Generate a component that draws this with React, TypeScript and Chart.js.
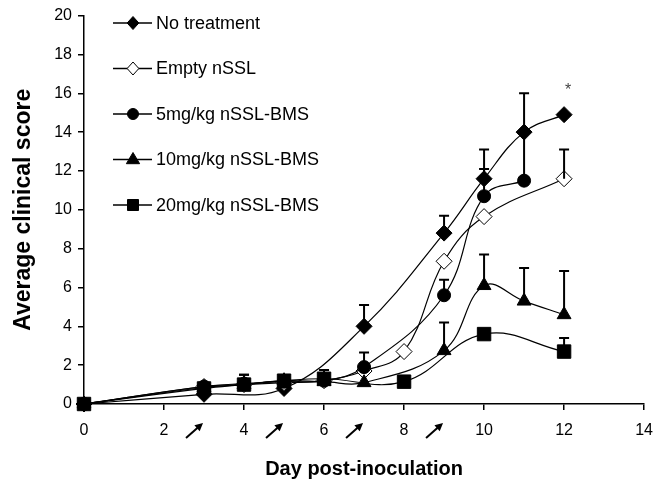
import React, { useEffect, useRef } from 'react';
import { Chart, registerables } from 'chart.js';

Chart.register(...registerables);

const FONT = '"Liberation Sans", Arial, sans-serif';

// Series data (day, mean score, upper error)
const noTreatDays = [0, 3, 5, 7, 9, 10, 11, 12];
const noTreatScores = [0, 0.5, 0.8, 4.0, 8.8, 11.6, 14.0, 14.9];
const noTreatErr = [null, null, null, 1.1, 0.9, 1.5, 2.0, null];

const emptyDays = [0, 3, 4, 5, 6, 7, 8, 9, 10, 12];
const emptyScores = [0, 0.9, 1.0, 1.1, 1.2, 1.7, 2.7, 7.35, 9.65, 11.6];
const emptyErr = [null, null, null, null, null, null, null, null, null, 1.5];

const mg5Days = [0, 3, 4, 5, 6, 7, 9, 10, 11];
const mg5Scores = [0, 0.9, 1.05, 1.15, 1.2, 1.9, 5.6, 10.7, 11.5];
const mg5Err = [null, null, 0.45, null, null, 0.75, 0.8, 1.4, 2.6];

const mg10Days = [0, 3, 4, 5, 6, 7, 9, 10, 11, 12];
const mg10Scores = [0, 0.85, 1.0, 1.2, 1.15, 1.1, 2.75, 6.1, 5.3, 4.6];
const mg10Err = [null, null, null, null, null, null, 1.45, 1.6, 1.7, 2.25];

const mg20Days = [0, 3, 4, 5, 6, 8, 10, 12];
const mg20Scores = [0, 0.8, 1.0, 1.2, 1.3, 1.15, 3.6, 2.7];
const mg20Err = [null, null, 0.5, 0.2, 0.45, null, null, 0.7];

const seriesLabels = ['No treatment', 'Empty nSSL', '5mg/kg nSSL-BMS', '10mg/kg nSSL-BMS', '20mg/kg nSSL-BMS'];
const arrowDays = [3, 5, 7, 9];
const xTicks = [0, 2, 4, 6, 8, 10, 12, 14];
const yTicks = [0, 2, 4, 6, 8, 10, 12, 14, 16, 18, 20];
const significanceDay = 12;
const significanceValue = 16.3;

function drawMarker(ctx: CanvasRenderingContext2D, style: string, x: number, y: number, r: number, filled: boolean) {
  ctx.save();
  ctx.beginPath();
  if (style === 'rectRot') {
    ctx.moveTo(x, y - r);
    ctx.lineTo(x + r * 0.9, y);
    ctx.lineTo(x, y + r);
    ctx.lineTo(x - r * 0.9, y);
    ctx.closePath();
  } else if (style === 'circle') {
    ctx.arc(x, y, r, 0, Math.PI * 2);
  } else if (style === 'triangle') {
    ctx.moveTo(x, y - r);
    ctx.lineTo(x + r * 0.95, y + r * 0.6);
    ctx.lineTo(x - r * 0.95, y + r * 0.6);
    ctx.closePath();
  } else {
    ctx.rect(x - r, y - r, 2 * r, 2 * r);
  }
  ctx.fillStyle = filled ? '#000' : '#fff';
  ctx.fill();
  ctx.strokeStyle = '#000';
  ctx.lineWidth = 1;
  ctx.stroke();
  ctx.restore();
}

const legendPlugin = {
  id: 'customLegend',
  afterDraw(chart: any) {
    const ctx = chart.ctx as CanvasRenderingContext2D;
    const styles = [
      ['rectRot', 6.5, true],
      ['rectRot', 6.5, false],
      ['circle', 5.5, true],
      ['triangle', 7, true],
      ['rect', 5.5, true],
    ] as const;
    seriesLabels.forEach((label, i) => {
      const y = 23 + i * 45.5;
      ctx.save();
      ctx.strokeStyle = '#000';
      ctx.lineWidth = 1.3;
      ctx.beginPath();
      ctx.moveTo(113, y);
      ctx.lineTo(152, y);
      ctx.stroke();
      ctx.restore();
      drawMarker(ctx, styles[i][0], 133, y, styles[i][1], styles[i][2]);
      ctx.save();
      ctx.fillStyle = '#000';
      ctx.font = `18px ${FONT}`;
      ctx.textAlign = 'left';
      ctx.textBaseline = 'middle';
      ctx.fillText(label, 156, y + 1);
      ctx.restore();
    });
  },
};

const errorBarPlugin = {
  id: 'errorBars',
  afterDatasetsDraw(chart: any) {
    const ctx = chart.ctx as CanvasRenderingContext2D;
    const yScale = chart.scales.y;
    chart.data.datasets.forEach((ds: any, i: number) => {
      const meta = chart.getDatasetMeta(i);
      (ds.errors || []).forEach((e: number | null, j: number) => {
        if (e == null) return;
        const pt = meta.data[j];
        const top = yScale.getPixelForValue(ds.data[j].y + e);
        ctx.save();
        ctx.strokeStyle = '#000';
        ctx.lineWidth = 2;
        ctx.beginPath();
        ctx.moveTo(pt.x, pt.y);
        ctx.lineTo(pt.x, top);
        ctx.moveTo(pt.x - 5, top);
        ctx.lineTo(pt.x + 5, top);
        ctx.stroke();
        ctx.restore();
      });
    });
  },
};

const annotationPlugin = {
  id: 'annotations',
  afterDraw(chart: any) {
    const ctx = chart.ctx as CanvasRenderingContext2D;
    const xScale = chart.scales.x;
    const yScale = chart.scales.y;
    const base = chart.chartArea.bottom;
    arrowDays.forEach((d) => {
      const tipX = xScale.getPixelForValue(d) - 1;
      const tipY = base + 19;
      const tailX = tipX - 17;
      const tailY = tipY + 15;
      const ang = Math.atan2(tipY - tailY, tipX - tailX);
      ctx.save();
      ctx.strokeStyle = '#000';
      ctx.fillStyle = '#000';
      ctx.lineWidth = 2;
      ctx.beginPath();
      ctx.moveTo(tailX, tailY);
      ctx.lineTo(tipX - 5 * Math.cos(ang), tipY - 5 * Math.sin(ang));
      ctx.stroke();
      ctx.beginPath();
      ctx.moveTo(tipX, tipY);
      ctx.lineTo(tipX - 8 * Math.cos(ang) + 4 * Math.sin(ang), tipY - 8 * Math.sin(ang) - 4 * Math.cos(ang));
      ctx.lineTo(tipX - 8 * Math.cos(ang) - 4 * Math.sin(ang), tipY - 8 * Math.sin(ang) + 4 * Math.cos(ang));
      ctx.closePath();
      ctx.fill();
      ctx.restore();
    });
    ctx.save();
    ctx.fillStyle = '#444';
    ctx.font = `16px ${FONT}`;
    ctx.textAlign = 'center';
    ctx.textBaseline = 'middle';
    ctx.fillText('*', xScale.getPixelForValue(significanceDay) + 4, yScale.getPixelForValue(significanceValue) + 3);
    ctx.restore();
  },
};

function toPoints(days: number[], scores: number[]) {
  return days.map((d, i) => ({ x: d, y: scores[i] }));
}

export default function App() {
  const canvasRef = useRef<HTMLCanvasElement | null>(null);

  useEffect(() => {
    document.body.style.margin = '0';
    const canvas = canvasRef.current;
    if (!canvas) return;
    const common = {
      borderColor: '#000',
      borderWidth: 1.2,
      tension: 0.4,
      pointBorderColor: '#000',
      pointBorderWidth: 1,
      clip: false as any,
      fill: false,
    };
    const chart = new Chart(canvas, {
      type: 'line',
      data: {
        datasets: [
          { ...common, order: 5, label: seriesLabels[0], data: toPoints(noTreatDays, noTreatScores), errors: noTreatErr, pointStyle: 'rectRot', pointRadius: 8, pointBackgroundColor: '#000' } as any,
          { ...common, order: 4, label: seriesLabels[1], data: toPoints(emptyDays, emptyScores), errors: emptyErr, pointStyle: 'rectRot', pointRadius: 8, pointBackgroundColor: '#fff' } as any,
          { ...common, order: 3, label: seriesLabels[2], data: toPoints(mg5Days, mg5Scores), errors: mg5Err, pointStyle: 'circle', pointRadius: 6.5, pointBackgroundColor: '#000' } as any,
          { ...common, order: 2, label: seriesLabels[3], data: toPoints(mg10Days, mg10Scores), errors: mg10Err, pointStyle: 'triangle', pointRadius: 8, pointBackgroundColor: '#000' } as any,
          { ...common, order: 1, label: seriesLabels[4], data: toPoints(mg20Days, mg20Scores), errors: mg20Err, pointStyle: 'rect', pointRadius: 9.5, pointBackgroundColor: '#000' } as any,
        ],
      },
      options: {
        responsive: false,
        animation: false,
        layout: { padding: { top: 12, right: 16, left: 0, bottom: 0 } },
        plugins: { legend: { display: false }, tooltip: { enabled: false } },
        scales: {
          x: {
            type: 'linear',
            min: 0,
            max: 14,
            afterBuildTicks: (s: any) => { s.ticks = xTicks.map((v) => ({ value: v })); },
            afterFit: (s: any) => { s.height = 86; },
            ticks: { color: '#000', font: { family: FONT, size: 16 }, padding: 11, maxRotation: 0 },
            grid: { drawOnChartArea: false, drawTicks: true, tickLength: 6, color: '#000', lineWidth: 1.5 },
            border: { color: '#000', width: 1.5 },
            title: { display: true, text: 'Day post-inoculation', color: '#000', font: { family: FONT, size: 20, weight: 'bold' }, padding: { top: 0, bottom: 9 } },
          },
          y: {
            type: 'linear',
            min: 0,
            max: 20,
            afterBuildTicks: (s: any) => { s.ticks = yTicks.map((v) => ({ value: v })); },
            afterFit: (s: any) => { s.width = 84; },
            ticks: { color: '#000', font: { family: FONT, size: 16 }, padding: 6 },
            grid: { drawOnChartArea: false, drawTicks: true, tickLength: 6, color: '#000', lineWidth: 1.5 },
            border: { color: '#000', width: 1.5 },
            title: { display: true, text: 'Average clinical score', color: '#000', font: { family: FONT, size: 23, weight: 'bold' }, padding: { top: 10, bottom: 0 } },
          },
        },
      } as any,
      plugins: [errorBarPlugin, legendPlugin, annotationPlugin],
    });
    return () => chart.destroy();
  }, []);

  return (
    <div style={{ position: 'absolute', left: 0, top: 0, width: 664, height: 490, background: '#fff' }}>
      <canvas ref={canvasRef} width={664} height={490} />
    </div>
  );
}
